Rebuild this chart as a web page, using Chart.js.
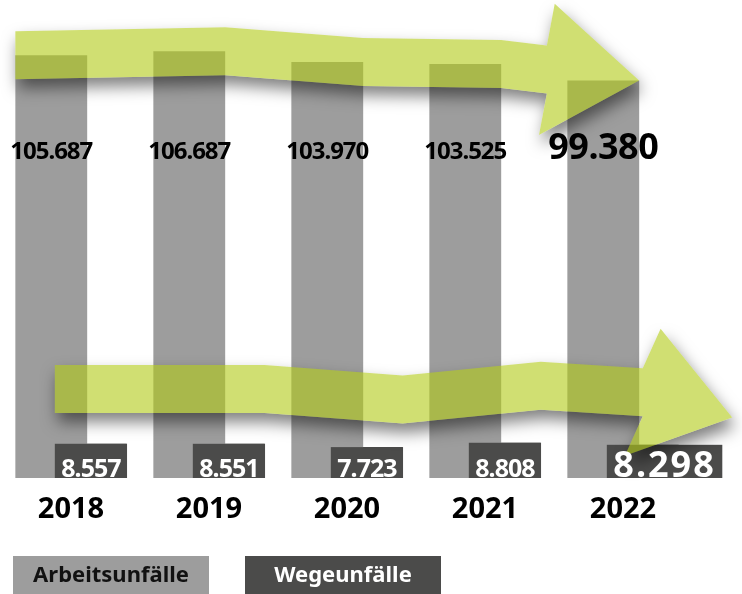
<!DOCTYPE html>
<html lang="de">
<head>
<meta charset="utf-8">
<title>Arbeits- und Wegeunfälle 2018–2022</title>
<script src="https://cdn.jsdelivr.net/npm/chart.js@4.4.1/dist/chart.umd.min.js"></script>
<style>
  html, body { margin: 0; padding: 0; background: #fff; }
  #wrap { width: 742px; height: 594px; position: relative; }
</style>
</head>
<body>
<div id="wrap"><canvas id="unfallChart"></canvas></div>
<script>
const years = ['2018', '2019', '2020', '2021', '2022'];
const arbeitsunfaelle = [105687, 106687, 103970, 103525, 99380];
const wegeunfaelle = [8557, 8551, 7723, 8808, 8298];
const seriesNames = ['Arbeitsunfälle', 'Wegeunfälle'];

const FONT = '"Noto Sans", "DejaVu Sans", sans-serif';
const GREY = '#9d9d9d';
const DARK = '#4b4b4a';
const ARROW_FILL = 'rgba(177, 202, 20, 0.6)';

// 105687 -> "105.687"
const fmt = (v) => String(v).replace(/\B(?=(\d{3})+(?!\d))/g, '.');

function arrowPath(ctx, pts, tip, half, headHalf, dx0 = 0) {
  const base = pts[pts.length - 1];
  const len = Math.hypot(tip.x - base.x, tip.y - base.y);
  const nx = -(tip.y - base.y) / len;
  const ny = (tip.x - base.x) / len;
  ctx.moveTo(pts[0].x + dx0, pts[0].y - half);
  for (let i = 1; i < pts.length; i++) ctx.lineTo(pts[i].x + dx0, pts[i].y - half);
  ctx.lineTo(base.x - nx * headHalf + dx0, base.y - ny * headHalf);
  ctx.lineTo(tip.x + dx0, tip.y);
  ctx.lineTo(base.x + nx * headHalf + dx0, base.y + ny * headHalf);
  for (let i = pts.length - 1; i >= 0; i--) ctx.lineTo(pts[i].x + dx0, pts[i].y + half);
  ctx.closePath();
}

function drawArrow(chart, pts, tip) {
  const ctx = chart.ctx;
  const OFF = 3000;
  const build = (dx) => arrowPath(ctx, pts, tip, 24, 66, dx);

  // shadow only outside the arrow, so the translucent fill stays clean
  ctx.save();
  ctx.beginPath();
  ctx.rect(0, 0, chart.width, chart.height);
  build(0);
  ctx.clip('evenodd');
  ctx.beginPath();
  build(-OFF);
  ctx.shadowColor = 'rgba(0, 0, 0, 0.5)';
  ctx.shadowBlur = 16;
  ctx.shadowOffsetX = OFF + 3;
  ctx.shadowOffsetY = 9;
  ctx.fillStyle = '#000';
  ctx.fill();
  ctx.restore();

  ctx.save();
  ctx.beginPath();
  build(0);
  ctx.fillStyle = ARROW_FILL;
  ctx.fill();
  ctx.restore();
}

const overlayPlugin = {
  id: 'overlay',
  afterDatasetsDraw(chart) {
    const ctx = chart.ctx;
    const area = chart.chartArea;
    const grey = chart.getDatasetMeta(0).data;
    const dark = chart.getDatasetMeta(1).data;
    const last = years.length - 1;

    const darkFont = (i) => (i === last ? `bold 36px ${FONT}` : `bold 25px ${FONT}`);
    const darkSpacing = (i) => (i === last ? '2px' : '-1px');

    // dark bars widen to fit their label (2022 has the big one)
    ctx.save();
    const boxes = dark.map((el, i) => {
      ctx.font = darkFont(i);
      ctx.letterSpacing = darkSpacing(i);
      const tw = ctx.measureText(fmt(wegeunfaelle[i])).width;
      const left = el.x - el.width / 2;
      const w = Math.max(el.width, tw + 13);
      ctx.fillStyle = DARK;
      ctx.fillRect(left, el.y, w, el.base - el.y);
      return { cx: left + w / 2, base: el.base };
    });
    ctx.restore();

    // upper arrow follows the tops of the Arbeitsunfälle bars
    const up = [{ x: grey[0].x - grey[0].width / 2, y: grey[0].y }];
    grey.slice(1, last).forEach((el) => up.push({ x: el.x + el.width / 2, y: el.y }));
    const upTip = { x: grey[last].x + grey[last].width / 2, y: grey[last].y };
    const p = up[up.length - 1];
    const l = Math.hypot(upTip.x - p.x, upTip.y - p.y);
    up.push({ x: upTip.x - 93 * (upTip.x - p.x) / l, y: upTip.y - 93 * (upTip.y - p.y) / l });
    drawArrow(chart, up, upTip);

    // lower arrow: Wegeunfälle trend, vertically exaggerated
    const trendY = (v) => area.bottom - 89 - (v - wegeunfaelle[0]) * 0.0125;
    const low = [{ x: dark[0].x - dark[0].width / 2, y: trendY(wegeunfaelle[0]) }];
    dark.slice(1, last).forEach((el, k) => low.push({ x: el.x + el.width / 2, y: trendY(wegeunfaelle[k + 1]) }));
    low.push({ x: dark[last].x, y: trendY(wegeunfaelle[last]) });
    const b = low[low.length - 1];
    const ang = 15.7 * Math.PI / 180;
    drawArrow(chart, low, { x: b.x + 93 * Math.cos(ang), y: b.y + 93 * Math.sin(ang) });

    // value labels
    ctx.save();
    ctx.textAlign = 'center';
    ctx.textBaseline = 'alphabetic';
    ctx.fillStyle = '#000';
    grey.forEach((el, i) => {
      ctx.font = i === last ? `bold 36px ${FONT}` : `bold 24px ${FONT}`;
      ctx.letterSpacing = i === last ? '-0.5px' : '-1px';
      ctx.fillText(fmt(arbeitsunfaelle[i]), el.x, area.top + 150.5);
    });
    ctx.fillStyle = '#fff';
    boxes.forEach((bx, i) => {
      ctx.font = darkFont(i);
      ctx.letterSpacing = darkSpacing(i);
      ctx.fillText(fmt(wegeunfaelle[i]), bx.cx, bx.base - 1);
    });
    ctx.restore();
  },
  afterDraw(chart) {
    // legend: filled boxes with the series name inside
    const ctx = chart.ctx;
    const textColors = ['#111', '#fff'];
    const top = chart.height - 38;
    ctx.save();
    ctx.font = `bold 22px ${FONT}`;
    ctx.textAlign = 'center';
    ctx.textBaseline = 'middle';
    chart.data.datasets.forEach((ds, i) => {
      const x = 13 + i * 232;
      ctx.fillStyle = ds.backgroundColor;
      ctx.fillRect(x, top, 196, 38);
      ctx.fillStyle = textColors[i];
      ctx.fillText(ds.label, x + 98, top + 20);
    });
    ctx.restore();
  },
};

new Chart(document.getElementById('unfallChart'), {
  type: 'bar',
  data: {
    labels: years,
    datasets: [
      {
        label: seriesNames[0],
        data: arbeitsunfaelle,
        backgroundColor: GREY,
        categoryPercentage: 0.572,
        barPercentage: 1.82,
      },
      {
        label: seriesNames[1],
        data: wegeunfaelle,
        backgroundColor: DARK,
        categoryPercentage: 0.572,
        barPercentage: 1.82,
      },
    ],
  },
  options: {
    responsive: true,
    maintainAspectRatio: false,
    animation: false,
    devicePixelRatio: 1,
    layout: { padding: { left: 2, right: 50, top: 8, bottom: 0 } },
    plugins: {
      legend: { display: false },
      tooltip: { enabled: false },
    },
    scales: {
      x: {
        grid: { display: false },
        border: { display: false },
        ticks: {
          color: '#000',
          padding: 6,
          font: { family: FONT, size: 29, weight: 'bold' },
        },
        afterFit: (axis) => {
          axis.height = 116;
        },
      },
      y: {
        display: false,
        min: 0,
        max: 117500,
      },
    },
  },
  plugins: [overlayPlugin],
});
</script>
</body>
</html>
